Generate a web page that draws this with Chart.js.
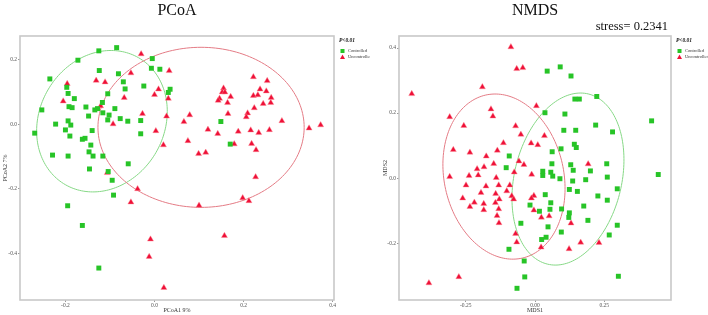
<!DOCTYPE html>
<html>
<head>
<meta charset="utf-8">
<script src="https://cdn.jsdelivr.net/npm/chart.js@4.4.0/dist/chart.umd.min.js"></script>
<style>
  html, body { margin: 0; padding: 0; background: #fff; }
  #wrap { position: relative; width: 708px; height: 315px; }
  canvas { position: absolute; top: 0; }
  #pcoaChart { left: 0; }
  #nmdsChart { left: 370px; }
</style>
</head>
<body>
<div id="wrap">
  <canvas id="pcoaChart" width="370" height="315"></canvas>
  <canvas id="nmdsChart" width="338" height="315"></canvas>
</div>
<script>
// ---- data ----
const groups = ['Controlled', 'Uncontrolled'];

// PCoA: [PCoA1, PCoA2]
const pcoaControlled = [
  [-0.085,0.238],[-0.125,0.228],[-0.172,0.199],[-0.005,0.204],[-0.235,0.141],[-0.124,0.167],
  [-0.081,0.157],[-0.007,0.174],[0.012,0.171],[-0.070,0.132],[-0.197,0.115],[-0.066,0.110],
  [-0.024,0.119],[0.035,0.109],[0.031,0.099],[-0.194,0.096],[-0.105,0.095],[-0.180,0.080],
  [-0.117,0.068],[-0.253,0.045],[-0.192,0.055],[-0.185,0.052],[-0.154,0.054],[-0.134,0.045],
  [-0.128,0.049],[-0.089,0.049],[-0.116,0.036],[-0.148,0.026],[-0.102,0.029],[-0.077,0.018],
  [-0.105,0.014],[-0.060,0.010],[-0.031,0.012],[-0.194,0.011],[-0.222,0.001],[-0.188,-0.002],
  [-0.200,-0.017],[-0.269,-0.027],[-0.140,-0.019],[-0.190,-0.036],[-0.031,-0.029],[-0.162,-0.046],
  [-0.156,-0.043],[-0.143,-0.064],[-0.147,-0.085],[-0.229,-0.095],[-0.194,-0.098],[-0.138,-0.098],
  [-0.116,-0.098],[-0.059,-0.122],[-0.146,-0.138],[-0.104,-0.146],[-0.095,-0.173],[-0.092,-0.219],
  [-0.195,-0.252],[-0.162,-0.313],[-0.125,-0.445],[0.149,0.009],[0.170,-0.061]
];
const pcoaUncontrolled = [
  [-0.030,0.218],[0.033,0.166],[-0.053,0.159],[-0.196,0.126],[-0.131,0.136],[-0.111,0.131],
  [0.009,0.109],[0.000,0.092],[0.031,0.080],[-0.068,0.083],[-0.205,0.072],[-0.121,0.057],
  [-0.027,0.033],[0.027,0.025],[0.079,0.029],[-0.093,0.001],[0.066,0.008],[0.003,-0.020],
  [0.075,-0.051],[0.020,-0.064],[0.099,-0.091],[-0.106,-0.150],[-0.038,-0.200],[-0.053,-0.241],
  [0.100,-0.251],[-0.009,-0.356],[-0.012,-0.410],[0.021,-0.506],[0.222,0.147],[0.253,0.135],
  [0.155,0.112],[0.237,0.109],[0.251,0.103],[0.152,0.100],[0.158,0.100],[0.171,0.086],
  [0.222,0.089],[0.232,0.091],[0.262,0.083],[0.146,0.080],[0.143,0.074],[0.164,0.067],
  [0.244,0.064],[0.261,0.067],[0.224,0.051],[0.209,0.035],[0.206,0.023],[0.165,0.033],
  [0.286,0.011],[0.347,-0.012],[0.373,-0.002],[0.120,-0.016],[0.142,-0.029],[0.188,-0.022],
  [0.216,-0.018],[0.234,-0.026],[0.258,-0.017],[0.179,-0.061],[0.218,-0.060],[0.228,-0.079],
  [0.115,-0.087],[0.227,-0.163],[0.198,-0.228],[0.212,-0.237],[0.157,-0.345]
];

// NMDS: [MDS1, MDS2]
const nmdsControlled = [
  [0.044,0.329],[0.091,0.342],[0.130,0.314],[0.144,0.243],[0.160,0.243],[0.223,0.251],
  [0.036,0.201],[0.108,0.197],[0.421,0.176],[0.104,0.147],[0.147,0.147],[0.219,0.163],
  [0.280,0.142],[0.142,0.104],[0.149,0.094],[0.094,0.090],[0.062,0.081],[-0.093,0.068],
  [0.061,0.044],[0.129,0.041],[0.138,0.024],[0.259,0.044],[0.200,0.022],[0.028,0.021],
  [0.028,0.008],[0.057,0.018],[0.064,0.006],[0.090,-0.002],[0.136,-0.009],[0.183,-0.005],
  [0.261,0.003],[0.445,0.011],[0.124,-0.035],[0.153,-0.041],[0.297,-0.033],[0.037,-0.051],
  [0.227,-0.055],[0.261,-0.068],[0.057,-0.076],[-0.018,-0.083],[0.176,-0.086],[0.096,-0.095],
  [0.054,-0.096],[0.016,-0.102],[0.124,-0.107],[0.122,-0.121],[0.191,-0.130],[0.047,-0.150],
  [0.297,-0.145],[0.095,-0.166],[0.268,-0.175],[0.040,-0.182],[0.024,-0.189],[0.301,-0.302],
  [-0.104,0.032],[-0.051,-0.139],[-0.094,-0.219],[-0.039,-0.255],[-0.037,-0.304],[-0.065,-0.339]
];
const nmdsUncontrolled = [
  [-0.445,0.259],[-0.087,0.403],[-0.066,0.336],[-0.044,0.339],[-0.190,0.280],[-0.159,0.212],
  [-0.152,0.190],[-0.308,0.188],[-0.257,0.161],[-0.070,0.160],[-0.051,0.134],[0.005,0.222],
  [0.034,0.130],[-0.114,0.108],[-0.014,0.107],[0.010,0.102],[-0.295,0.087],[-0.136,0.085],
  [-0.235,0.079],[-0.176,0.067],[-0.058,0.052],[-0.040,0.041],[-0.149,0.044],[-0.184,0.034],
  [-0.209,0.028],[-0.075,0.018],[-0.012,0.011],[-0.308,0.004],[-0.238,0.007],[-0.205,0.009],
  [-0.140,0.001],[-0.249,-0.022],[-0.177,-0.025],[-0.131,-0.022],[-0.091,-0.022],[-0.195,-0.045],
  [-0.142,-0.048],[-0.102,-0.040],[-0.084,-0.055],[-0.077,-0.065],[-0.004,-0.054],[-0.261,-0.062],
  [-0.129,-0.065],[-0.219,-0.075],[-0.185,-0.079],[-0.143,-0.076],[-0.013,-0.062],[-0.235,-0.088],
  [-0.185,-0.098],[-0.131,-0.095],[-0.004,-0.099],[-0.137,-0.116],[0.023,-0.121],[-0.130,-0.138],
  [-0.070,-0.171],[-0.066,-0.197],[0.022,-0.213],[-0.275,-0.304],[-0.383,-0.323],[0.192,0.043],
  [0.051,-0.117],[0.130,-0.139],[0.165,-0.198],[0.231,-0.199],[0.123,-0.218]
];

// tick values
const pcoaXTicks = [-0.2, 0.0, 0.2, 0.4];
const pcoaYTicks = [-0.4, -0.2, 0.0, 0.2];
const nmdsXTicks = [-0.25, 0.00, 0.25];
const nmdsYTicks = [-0.2, 0.0, 0.2, 0.4];

// confidence ellipses: centre + two conjugate half-axes, in data units
const pcoaEllipses = [
  { c: [-0.118, 0.010], u: [0.0823, 0.1966], v: [0.1214, -0.0967], color: '#86d886' },
  { c: [0.1045, -0.009], u: [0.2315, 0], v: [0, 0.248], color: '#e47b85' }
];
const nmdsEllipses = [
  { c: [0.119, -0.003], u: [0.0733, 0.2618], v: [0.1884, -0.0382], color: '#86d886' },
  { c: [-0.112, 0.0046], u: [0.0657, -0.2508], v: [-0.2105, -0.0400], color: '#e47b85' }
];

const GREEN = '#27c427';
const RED = '#ee1038';
const SERIF = "'Liberation Serif', 'DejaVu Serif', serif";

// 枠・楕円・タイトル・凡例を描くプラグイン
const panelPlugin = {
  id: 'panel',
  beforeDatasetsDraw(chart, args, opts) {
    const { ctx, chartArea: a, scales: { x, y } } = chart;
    ctx.save();
    ctx.strokeStyle = '#c8c8c8';
    ctx.lineWidth = 1.6;
    ctx.strokeRect(a.left, a.top, a.right - a.left, a.bottom - a.top);
    opts.ellipses.forEach(e => {
      ctx.beginPath();
      for (let i = 0; i <= 180; i++) {
        const t = i / 180 * Math.PI * 2;
        const vx = e.c[0] + e.u[0] * Math.cos(t) + e.v[0] * Math.sin(t);
        const vy = e.c[1] + e.u[1] * Math.cos(t) + e.v[1] * Math.sin(t);
        const px = x.getPixelForValue(vx), py = y.getPixelForValue(vy);
        if (i === 0) ctx.moveTo(px, py); else ctx.lineTo(px, py);
      }
      ctx.closePath();
      ctx.strokeStyle = e.color;
      ctx.lineWidth = 1;
      ctx.stroke();
    });
    ctx.restore();
  },
  afterDraw(chart, args, opts) {
    const { ctx, chartArea: a } = chart;
    ctx.save();
    ctx.fillStyle = '#111';
    ctx.textBaseline = 'alphabetic';
    // title
    ctx.font = '16px ' + SERIF;
    ctx.textAlign = 'center';
    ctx.fillText(opts.title, (a.left + a.right) / 2, 14.5);
    if (opts.stress) {
      ctx.font = '12.5px ' + SERIF;
      ctx.textAlign = 'right';
      ctx.fillText(opts.stress, a.right - 3, 30);
    }
    // legend
    const lx = a.right + 5;
    ctx.textAlign = 'left';
    ctx.textBaseline = 'middle';
    ctx.font = 'italic bold 5.5px ' + SERIF;
    ctx.fillText('P<0.01', lx, 41);
    ctx.font = '4.5px ' + SERIF;
    ctx.fillStyle = '#333';
    ctx.fillText(groups[0], lx + 9, 51);
    ctx.fillText(groups[1], lx + 9, 57);
    ctx.fillStyle = GREEN;
    ctx.fillRect(lx + 1.5, 49, 4, 4);
    ctx.fillStyle = RED;
    ctx.beginPath();
    ctx.moveTo(lx + 3.5, 54.5);
    ctx.lineTo(lx + 6, 59);
    ctx.lineTo(lx + 1, 59);
    ctx.closePath();
    ctx.fill();
    ctx.restore();
  }
};

function toPoints(arr) {
  return arr.map(p => ({ x: p[0], y: p[1] }));
}

function makeAxis(opt) {
  return {
    type: 'linear',
    min: opt.min,
    max: opt.max,
    afterBuildTicks: s => { s.ticks = opt.ticks.map(v => ({ value: v })); },
    afterFit: s => { if (opt.isX) s.height = opt.size; else s.width = opt.size; },
    ticks: {
      autoSkip: false,
      maxRotation: 0,
      minRotation: 0,
      padding: 1,
      color: '#555',
      font: { family: SERIF, size: 5.5, lineHeight: 1 },
      callback: v => Number(v).toFixed(opt.digits)
    },
    grid: { drawOnChartArea: false, drawTicks: true, tickLength: 2, color: '#999' },
    border: { display: false },
    title: {
      display: true,
      text: opt.title,
      color: '#333',
      font: { family: SERIF, size: 6 },
      padding: opt.isX ? { top: 0, bottom: 1.4 } : { top: opt.titlePad, bottom: 0 }
    }
  };
}

function makeChart(id, ctrl, unctrl, scales, panel, padRight) {
  new Chart(document.getElementById(id).getContext('2d'), {
    type: 'scatter',
    data: {
      datasets: [
        {
          label: groups[0],
          data: toPoints(ctrl),
          pointStyle: 'rect',
          pointRadius: 3.5,
          backgroundColor: GREEN,
          borderWidth: 0
        },
        {
          label: groups[1],
          data: toPoints(unctrl),
          pointStyle: 'triangle',
          pointRadius: 3.5,
          backgroundColor: RED,
          borderColor: 'rgba(255,140,150,0.7)',
          borderWidth: 0.6
        }
      ]
    },
    options: {
      responsive: false,
      animation: false,
      events: [],
      layout: { padding: { top: 36, right: padRight, left: 0, bottom: 0 } },
      scales: scales,
      plugins: {
        legend: { display: false },
        tooltip: { enabled: false },
        panel: panel
      }
    },
    plugins: [panelPlugin]
  });
}

window.onload = function() {
  makeChart('pcoaChart', pcoaControlled, pcoaUncontrolled, {
    x: makeAxis({ isX: true, min: -0.302, max: 0.403, ticks: pcoaXTicks, digits: 1, title: 'PCoA1 9%', size: 15 }),
    y: makeAxis({ isX: false, min: -0.544, max: 0.274, ticks: pcoaYTicks, digits: 1, title: 'PCoA2 7%', size: 20, titlePad: 1.5 })
  }, { title: 'PCoA', ellipses: pcoaEllipses }, 36);

  makeChart('nmdsChart', nmdsControlled, nmdsUncontrolled, {
    x: makeAxis({ isX: true, min: -0.491, max: 0.491, ticks: nmdsXTicks, digits: 2, title: 'MDS1', size: 15 }),
    y: makeAxis({ isX: false, min: -0.375, max: 0.437, ticks: nmdsYTicks, digits: 1, title: 'MDS2', size: 29, titlePad: 11.4 })
  }, { title: 'NMDS', stress: 'stress= 0.2341', ellipses: nmdsEllipses }, 37);
};
</script>
</body>
</html>
